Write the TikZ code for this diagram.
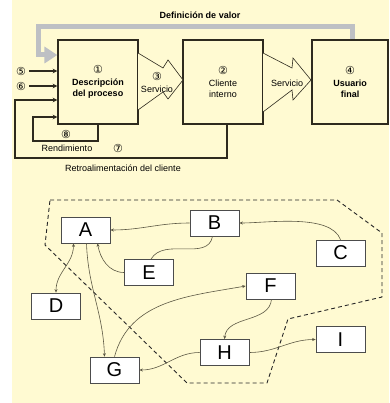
\documentclass[tikz,border=0pt]{standalone}
\usepackage{fontspec}
\setmainfont{Liberation Sans}
\newfontfamily\circfont{DejaVu Sans}
\usetikzlibrary{arrows.meta}
\definecolor{paper}{HTML}{FFFAD2}
\definecolor{ink}{HTML}{2E2A1E}
\definecolor{valor}{HTML}{BEC0C4}
\definecolor{linkcol}{HTML}{5C5844}
\newcommand\circnum[1]{{\circfont\fontsize{11}{11}\selectfont #1}}
\begin{document}
\begin{tikzpicture}[x=1pt,y=1pt,font=\fontsize{9}{11}\selectfont,
  stage/.style={draw=ink,line width=1.2pt,fill=paper,align=center,minimum width=80pt,minimum height=84pt,inner sep=0pt},
  flow/.style={draw=ink,line width=0.6pt,fill=paper,line join=miter},
  fb/.style={draw=ink,line width=1.1pt,->},
  item/.style={draw=gray!60!black,fill=white,line width=0.7pt,minimum width=49pt,minimum height=26pt,inner sep=0pt,font=\fontsize{20}{20}\selectfont},
  link/.style={draw=linkcol,line width=0.6pt,-{Stealth[length=3.5pt,width=3pt]}},
  >=stealth]
\useasboundingbox (0,0) rectangle (389,-403);
\fill[paper] (12,0) rectangle (389,-403);
\node[stage] (desc) at (98,-82) {\circnum{①}\\[1pt]\textbf{Descripción}\\\textbf{del proceso}};
\node[stage] (cliente) at (223,-82) {\circnum{②}\\[1pt]Cliente\\interno};
\node[stage,minimum width=76pt] (usuario) at (350,-82) {\circnum{④}\\[1pt]\textbf{Usuario}\\\textbf{final}};
\draw[flow] (138,-53)--(163,-68)--(168,-60)--(183,-80)--(168,-99)--(163,-92)--(138,-110);
\draw[flow] (263,-53)--(292,-68)--(293,-58)--(311,-80)--(293,-100)--(292,-90)--(263,-112);
\node (n3) at (157,-76) {\circnum{③}};
\node (serv1) at (157,-89) {Servicio};
\node (serv2) at (287,-83) {Servicio};
\node[font=\fontsize{9}{11}\selectfont\bfseries] (defval) at (200,-15) {Definición de valor};
\coordinate (vtop) at (352,-27);
\draw[valor,line width=5pt,-{Triangle[length=13pt,width=16pt]}] (usuario.north -| vtop)--(vtop) -| (38,-55)--(desc.west |- 0,-55);
\node (in5) at (21,-71) {\circnum{⑤}};
\node (in6) at (21,-86) {\circnum{⑥}};
\draw[fb] (in5)--(desc.west |- in5);
\draw[fb] (in6)--(desc.west |- in6);
\coordinate (fbcorner) at (15,-158);
\draw[fb] ([xshift=4pt]cliente.south) |- (fbcorner) |- (desc.west |- 0,-100);
\coordinate (rdcorner) at (33,-141);
\draw[fb] (desc.south) |- (rdcorner) |- (desc.west |- 0,-117);
\node (n8) at (66,-134) {\circnum{⑧}};
\node (rend) at (67,-148) {Rendimiento};
\node (n7) at (118,-148) {\circnum{⑦}};
\node (retro) at (123,-168) {Retroalimentación del cliente};
\draw[dashed,draw=gray!30!black,line width=0.9pt,dash pattern=on 4pt off 3pt] (50,-200)--(337,-200)--(382,-233)--(382,-297)--(288,-319)--(267,-383)--(187,-383)--(45,-245)--cycle;
\node[item] (A) at (85.5,-230) {A};
\node[item] (B) at (214.5,-223) {B};
\node[item] (C) at (340.5,-253) {C};
\node[item] (E) at (149,-272.5) {E};
\node[item] (F) at (270.5,-286) {F};
\node[item] (D) at (56,-306) {D};
\node[item] (H) at (224.5,-352.5) {H};
\node[item] (I) at (340.5,-339.5) {I};
\node[item] (G) at (114.5,-370) {G};
\draw[link] (B.west) to[out=180,in=0] (A.east);
\draw[link] (C.north) to[out=110,in=0,looseness=0.7] (B.east);
\draw[link,-] ([xshift=-2pt]B.south) to[out=-100,in=60] ([xshift=2pt]E.north);
\draw[link] (E.west) to[out=180,in=-80] ([xshift=12pt]A.south);
\draw[link,{Stealth[length=3.5pt,width=3pt]}-{Stealth[length=3.5pt,width=3pt]}] (D.north) to[out=90,in=-90] ([xshift=-12pt]A.south);
\draw[link] ([xshift=1pt]A.south) to[out=-88,in=92] ([xshift=-10pt]G.north);
\draw[link] (G.north) to[out=75,in=190] (F.west);
\draw[link] ([xshift=1pt]F.south) to[out=-95,in=85] (H.north);
\draw[link] (H.west) to[out=180,in=0] (G.east);
\draw[link] (H.east) to[out=0,in=180] (I.west);
\end{tikzpicture}
\end{document}
